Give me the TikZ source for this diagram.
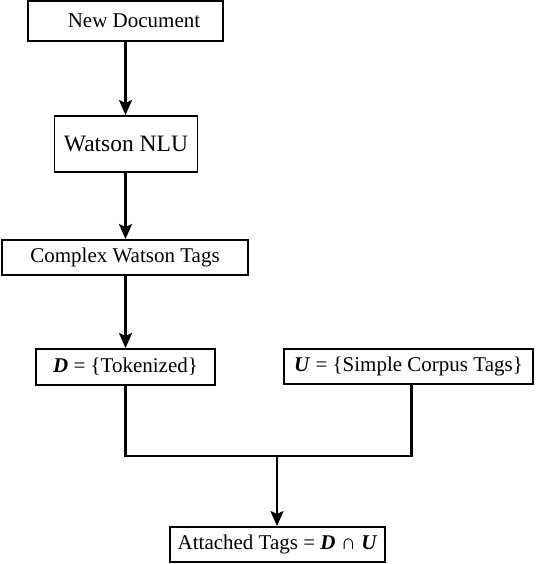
\documentclass[tikz,border=0pt]{standalone}
\usepackage{fontspec}
\setmainfont{Liberation Serif}
\usetikzlibrary{arrows.meta}
\newcommand{\sym}[1]{\textbf{\textit{#1}}}
\begin{document}
\begin{tikzpicture}[x=1pt,y=-1pt,
  boxnode/.style={draw,line width=1.9pt,rectangle,inner sep=0pt,font=\fontsize{21}{24}\selectfont},
  flow/.style={line width=2.5pt,-{Stealth[length=15pt,width=13pt,inset=3pt]}},
  joinline/.style={line width=2.3pt}]
\useasboundingbox (0,0) rectangle (536,564);
\node[boxnode,minimum width=195pt,minimum height=40pt] (nd) at (125.5,21) {\hspace*{17pt}New Document};
\node[boxnode,minimum width=143pt,minimum height=56pt,font=\fontsize{23.5}{27}\selectfont] (nlu) at (126,144) {Watson NLU};
\node[boxnode,minimum width=246pt,minimum height=35pt] (cwt) at (125,257.5) {Complex Watson Tags};
\node[boxnode,minimum width=179pt,minimum height=36pt] (d) at (125.5,367) {\sym{D} = \{Tokenized\}};
\node[boxnode,minimum width=249pt,minimum height=35pt] (u) at (408.5,366.5) {\sym{U} = \{Simple Corpus Tags\}};
\node[boxnode,minimum width=215pt,minimum height=35pt] (att) at (277.5,544.5) {Attached Tags = \sym{D} ∩ \sym{U}};
\coordinate (m) at (277,456);
\draw[flow] (nd.south) -- (nd.south |- nlu.north);
\draw[flow] (nd.south |- nlu.south) -- (nd.south |- cwt.north);
\draw[flow] (nd.south |- cwt.south) -- (nd.south |- d.north);
\draw[joinline] (d.south) |- (m) -| ([xshift=3pt]u.south);
\draw[flow] (m) -- (m |- att.north);
\end{tikzpicture}
\end{document}
